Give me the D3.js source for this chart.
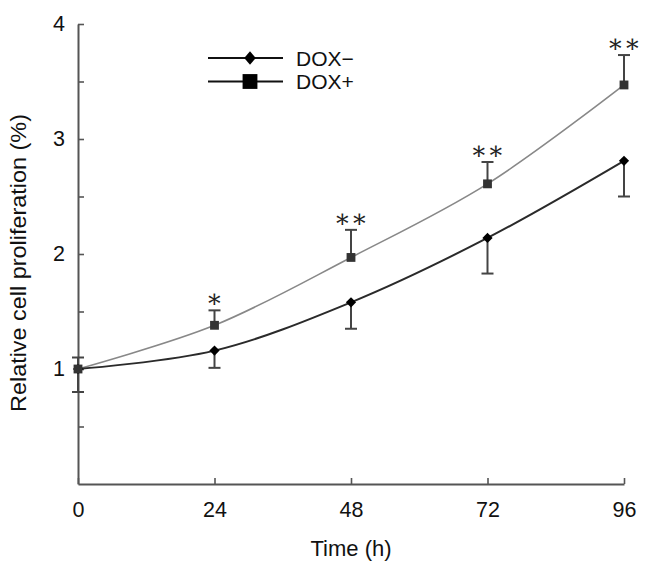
<!DOCTYPE html>
<html>
<head>
<meta charset="utf-8">
<script src="https://cdn.jsdelivr.net/npm/d3@7"></script>
<style>
  html, body { margin: 0; padding: 0; background: #fff; }
  svg { display: block; }
</style>
</head>
<body>
<svg id="chart" width="646" height="569"></svg>
<script>
// ---- data ----
const times = [0, 24, 48, 72, 96];
const doxMinus = [1.00, 1.16, 1.58, 2.14, 2.81];
const doxMinusErr = [0.20, 0.15, 0.23, 0.31, 0.31];
const doxPlus = [1.00, 1.38, 1.97, 2.61, 3.47];
const doxPlusErr = [0.10, 0.13, 0.24, 0.19, 0.26];
const significance = ["", "*", "**", "**", "**"];
const xTicks = [0, 24, 48, 72, 96];
const yTicks = [0.5, 1, 1.5, 2, 2.5, 3, 3.5, 4];
const seriesNames = ["DOX\u2212", "DOX+"];

// ---- layout ----
const svg = d3.select("#chart");
const x = d3.scaleLinear().domain([0, 96]).range([78, 624]);
const y = d3.scaleLinear().domain([0, 4]).range([484, 24]);
const axisColor = "#555";
const font = "Arial, 'Liberation Sans', Helvetica, sans-serif";

// axes
const yAxis = d3.axisLeft(y).tickValues(yTicks).tickSize(-6).tickSizeOuter(0).tickPadding(13)
  .tickFormat(d => Number.isInteger(d) ? d : "");
const gy = svg.append("g").attr("transform", `translate(${x(0)},0)`).call(yAxis);
const xAxis = d3.axisBottom(x).tickValues(xTicks).tickSize(-6).tickSizeOuter(0).tickPadding(18);
const gx = svg.append("g").attr("transform", `translate(0,${y(0)})`).call(xAxis);
[gx, gy].forEach(g => {
  g.select(".domain").attr("stroke", axisColor).attr("stroke-width", 2);
  g.selectAll(".tick line").attr("stroke", axisColor).attr("stroke-width", 1.6);
  g.selectAll(".tick text").attr("fill", "#111").style("font-family", font).style("font-size", "21.5px");
});

// axis titles
svg.append("text").attr("x", (x(0) + x(96)) / 2).attr("y", 556)
  .attr("text-anchor", "middle").style("font-family", font).style("font-size", "22px").attr("fill", "#111")
  .text("Time (h)");
svg.append("text").attr("transform", `translate(26,${263}) rotate(-90)`)
  .attr("text-anchor", "middle").style("font-family", font).style("font-size", "21.5px").attr("fill", "#111")
  .attr("textLength", 298).attr("lengthAdjust", "spacingAndGlyphs")
  .text("Relative cell proliferation (%)");

const series = [
  { name: seriesNames[0], vals: doxMinus, err: doxMinusErr, dir: -1, line: "#2a2a2a", lw: 2, fill: "#000", shape: d3.symbolSquare, rot: 45, size: 52 },
  { name: seriesNames[1], vals: doxPlus, err: doxPlusErr, dir: 1, line: "#888", lw: 1.6, fill: "#333", shape: d3.symbolSquare, rot: 0, size: 78 }
];

const lineGen = d3.line().x(d => x(d[0])).y(d => y(d[1])).curve(d3.curveCatmullRom.alpha(0.5));

// error bars + lines + markers
series.slice().reverse().forEach(s => {
  const pts = times.map((t, i) => [t, s.vals[i], s.err[i]]);
  const g = svg.append("g");
  g.selectAll(".eb").data(pts).join("line")
    .attr("x1", d => x(d[0])).attr("x2", d => x(d[0]))
    .attr("y1", d => y(d[1])).attr("y2", d => y(d[1] + s.dir * d[2]))
    .attr("stroke", "#444").attr("stroke-width", 2);
  g.selectAll(".cap").data(pts).join("line")
    .attr("x1", d => x(d[0]) - 6).attr("x2", d => x(d[0]) + 6)
    .attr("y1", d => y(d[1] + s.dir * d[2])).attr("y2", d => y(d[1] + s.dir * d[2]))
    .attr("stroke", "#444").attr("stroke-width", 2);
  g.append("path").datum(pts).attr("d", lineGen).attr("fill", "none")
    .attr("stroke", s.line).attr("stroke-width", s.lw);
});
series.forEach(s => {
  const pts = times.map((t, i) => [t, s.vals[i]]);
  svg.append("g").selectAll("path").data(pts).join("path")
    .attr("transform", d => `translate(${x(d[0])},${y(d[1])}) rotate(${s.rot})`)
    .attr("d", d3.symbol().type(s.shape).size(s.size)).attr("fill", s.fill);
});

// significance asterisks
svg.append("g").selectAll("text").data(times.map((t, i) => [t, doxPlus[i] + doxPlusErr[i], significance[i]]))
  .join("text")
  .attr("x", d => x(d[0])).attr("y", d => y(d[1]) - 3)
  .attr("text-anchor", "middle")
  .style("font-family", "'DejaVu Serif', 'Liberation Serif', serif").style("font-size", "25px")
  .attr("fill", "#222")
  .text(d => d[2].replace(/\*/g, "\u2217"));

// legend
const legend = svg.append("g");
series.forEach((s, i) => {
  const ly = 58 + i * 23.5;
  legend.append("line").attr("x1", 208).attr("x2", 283).attr("y1", ly).attr("y2", ly)
    .attr("stroke", "#111").attr("stroke-width", 2);
  legend.append("path").attr("transform", `translate(250,${ly}) ` + (i === 0 ? "scale(0.85,1) rotate(45)" : ""))
    .attr("d", d3.symbol().type(d3.symbolSquare).size(i === 0 ? 92 : 220)).attr("fill", "#000");
  legend.append("text").attr("x", 296).attr("y", ly + 7.5)
    .style("font-family", font).style("font-size", "21px").attr("fill", "#111").text(s.name);
});
</script>
</body>
</html>
